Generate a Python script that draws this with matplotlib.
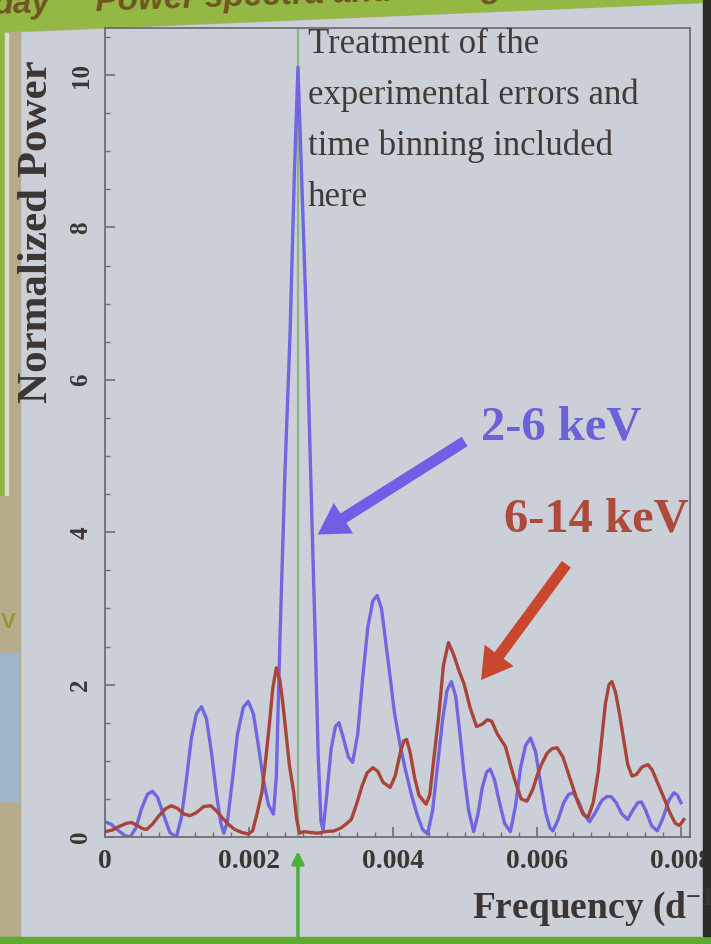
import matplotlib
matplotlib.use("Agg")
import matplotlib.pyplot as plt
from matplotlib.patches import Polygon, Rectangle
from matplotlib.ticker import MultipleLocator

plt.rcParams['font.family'] = ['Liberation Serif', 'DejaVu Serif']
plt.rcParams['mathtext.fontset'] = 'custom'
plt.rcParams['mathtext.rm'] = 'Liberation Serif:bold'
plt.rcParams['mathtext.bf'] = 'Liberation Serif:bold'
plt.rcParams['mathtext.it'] = 'Liberation Serif:bold:italic'

# 2-6 keV 功率谱
freq_soft = [0.00000, 0.00008, 0.00018, 0.00027, 0.00035, 0.00043, 0.00051, 0.00059, 0.00066, 0.00073,
             0.00081, 0.00090, 0.00099, 0.00106, 0.00113, 0.00120, 0.00127, 0.00134, 0.00141, 0.00148,
             0.00155, 0.00161, 0.00165, 0.00170, 0.00177, 0.00184, 0.00192, 0.00199, 0.00206, 0.00213,
             0.00220, 0.00227, 0.00234, 0.00238, 0.00243, 0.00250, 0.00257, 0.00263, 0.00268, 0.00274,
             0.00281, 0.00287, 0.00292, 0.00296, 0.00300, 0.00303, 0.00308, 0.00314, 0.00320, 0.00325,
             0.00331, 0.00338, 0.00344, 0.00351, 0.00358, 0.00365, 0.00372, 0.00378, 0.00384, 0.00390,
             0.00396, 0.00402, 0.00410, 0.00418, 0.00426, 0.00434, 0.00441, 0.00448, 0.00455, 0.00462,
             0.00469, 0.00475, 0.00481, 0.00487, 0.00493, 0.00499, 0.00505, 0.00512, 0.00518, 0.00524,
             0.00530, 0.00535, 0.00541, 0.00548, 0.00555, 0.00563, 0.00570, 0.00577, 0.00584, 0.00591,
             0.00598, 0.00605, 0.00612, 0.00618, 0.00622, 0.00629, 0.00637, 0.00644, 0.00650, 0.00657,
             0.00665, 0.00673, 0.00681, 0.00690, 0.00697, 0.00703, 0.00710, 0.00718, 0.00726, 0.00733,
             0.00740, 0.00745, 0.00751, 0.00759, 0.00767, 0.00775, 0.00783, 0.00790, 0.00795, 0.00800]
power_soft = [0.20, 0.17, 0.09, 0.02, 0.00, 0.12, 0.38, 0.56, 0.60, 0.52,
              0.30, 0.06, 0.00, 0.25, 0.75, 1.30, 1.62, 1.71, 1.55, 1.10,
              0.55, 0.18, 0.05, 0.20, 0.75, 1.35, 1.70, 1.78, 1.62, 1.20,
              0.75, 0.42, 0.30, 0.80, 2.60, 4.80, 6.60, 8.70, 10.10, 8.40,
              6.40, 4.30, 2.60, 1.10, 0.20, 0.10, 0.55, 1.15, 1.45, 1.50,
              1.30, 1.05, 0.98, 1.35, 2.10, 2.75, 3.10, 3.17, 3.00, 2.55,
              2.10, 1.63, 1.20, 0.85, 0.54, 0.28, 0.10, 0.04, 0.35, 0.95,
              1.55, 1.92, 2.04, 1.85, 1.35, 0.80, 0.35, 0.07, 0.30, 0.65,
              0.85, 0.89, 0.75, 0.45, 0.18, 0.07, 0.40, 0.90, 1.20, 1.30,
              1.12, 0.70, 0.32, 0.12, 0.08, 0.22, 0.45, 0.56, 0.58, 0.48,
              0.30, 0.20, 0.32, 0.48, 0.53, 0.53, 0.45, 0.30, 0.23, 0.35,
              0.45, 0.46, 0.35, 0.15, 0.08, 0.25, 0.48, 0.58, 0.55, 0.45]

# 6-14 keV 功率谱
freq_hard = [0.00000, 0.00010, 0.00020, 0.00030, 0.00037, 0.00045, 0.00052, 0.00058, 0.00066, 0.00075,
             0.00084, 0.00092, 0.00100, 0.00110, 0.00118, 0.00127, 0.00137, 0.00147, 0.00155, 0.00163,
             0.00171, 0.00180, 0.00190, 0.00199, 0.00205, 0.00211, 0.00218, 0.00223, 0.00228, 0.00233,
             0.00238, 0.00243, 0.00247, 0.00251, 0.00256, 0.00262, 0.00266, 0.00270, 0.00276, 0.00285,
             0.00295, 0.00305, 0.00318, 0.00328, 0.00336, 0.00342, 0.00349, 0.00357, 0.00364, 0.00372,
             0.00379, 0.00386, 0.00396, 0.00403, 0.00410, 0.00415, 0.00419, 0.00424, 0.00430, 0.00436,
             0.00440, 0.00446, 0.00451, 0.00457, 0.00464, 0.00470, 0.00477, 0.00484, 0.00491, 0.00499,
             0.00507, 0.00516, 0.00524, 0.00531, 0.00537, 0.00545, 0.00556, 0.00563, 0.00570, 0.00578,
             0.00586, 0.00594, 0.00600, 0.00606, 0.00614, 0.00621, 0.00628, 0.00636, 0.00643, 0.00650,
             0.00657, 0.00664, 0.00671, 0.00678, 0.00685, 0.00690, 0.00695, 0.00700, 0.00704, 0.00709,
             0.00714, 0.00720, 0.00726, 0.00732, 0.00738, 0.00746, 0.00754, 0.00760, 0.00768, 0.00776,
             0.00784, 0.00792, 0.00798, 0.00804]
power_hard = [0.07, 0.09, 0.14, 0.18, 0.19, 0.15, 0.11, 0.10, 0.17, 0.28,
              0.37, 0.41, 0.38, 0.30, 0.28, 0.32, 0.40, 0.41, 0.34, 0.25,
              0.17, 0.10, 0.06, 0.04, 0.08, 0.30, 0.59, 1.00, 1.45, 1.95,
              2.22, 2.05, 1.75, 1.40, 0.95, 0.59, 0.25, 0.05, 0.07, 0.06,
              0.05, 0.07, 0.08, 0.12, 0.18, 0.23, 0.42, 0.67, 0.84, 0.91,
              0.86, 0.72, 0.65, 0.80, 1.10, 1.26, 1.28, 1.10, 0.78, 0.55,
              0.50, 0.43, 0.55, 1.05, 1.63, 2.25, 2.55, 2.40, 2.20, 2.00,
              1.70, 1.45, 1.48, 1.54, 1.52, 1.35, 1.19, 0.95, 0.72, 0.50,
              0.47, 0.62, 0.80, 0.95, 1.10, 1.16, 1.17, 1.05, 0.85, 0.65,
              0.45, 0.30, 0.26, 0.45, 0.85, 1.30, 1.75, 2.00, 2.04, 1.90,
              1.65, 1.30, 0.95, 0.80, 0.82, 0.92, 0.95, 0.88, 0.70, 0.52,
              0.33, 0.18, 0.15, 0.23]

marker_freq = 0.00268
x_ticks = [0, 0.002, 0.004, 0.006, 0.008]
x_ticklabels = ['0', '0.002', '0.004', '0.006', '0.008']
y_ticks = [0, 2, 4, 6, 8, 10]
y_ticklabels = ['0', '2', '4', '6', '8', '10']
note_lines = ['Treatment of the', 'experimental errors and',
              'time binning included', 'here']

W, H = 711, 944
fig = plt.figure(figsize=(W / 100, H / 100), dpi=100)
fig.patch.set_facecolor('#93b944')

# 背景: 幻灯片照片的各个色块 (像素坐标)
bg = fig.add_axes([0, 0, 1, 1], zorder=0)
bg.set_xlim(0, W)
bg.set_ylim(H, 0)
bg.axis('off')
bg.add_patch(Rectangle((0, 928), W, 20, color='#5daa32'))
bg.add_patch(Polygon([(0, 33), (703, 4), (703, 936), (0, 936)], color='#b6ab8b'))
bg.add_patch(Rectangle((0, 33), 5, 462, color='#8db640'))
bg.add_patch(Rectangle((5, 33), 3, 462, color='#d9dcd8'))
bg.add_patch(Rectangle((0, 653), 18, 148, color='#9db6cb'))
bg.text(1, 622, 'V', color='#8c9a34', fontsize=16, fontweight='bold', ha='left', va='center',
        family='Liberation Sans')
bg.add_patch(Polygon([(22, 33), (703, 4), (703, 936), (22, 936)], color='#cbd0d8'))
bg.text(-8, 14, 'day', color='#6e5522', fontsize=24, fontweight='bold', style='italic',
        family='Liberation Sans', rotation=2, va='baseline')
bg.text(95, 11, 'Power spectra and timing', color='#6e5522', fontsize=24, fontweight='bold',
        style='italic', family='Liberation Sans', rotation=2, va='baseline')

ov = fig.add_axes([0, 0, 1, 1], zorder=3)
ov.set_xlim(0, W)
ov.set_ylim(H, 0)
ov.axis('off')
ov.patch.set_alpha(0)

# 主图
ax = fig.add_axes([105 / W, 1 - 837 / H, (690 - 105) / W, (837 - 28) / H], zorder=2)
ax.patch.set_alpha(0)
ax.set_xlim(0, (690 - 105) / 72000)
ax.set_ylim(0, 809 / 76.2)

ax.axvline(marker_freq, color='#86b986', lw=1.6, zorder=1)
ax.plot(freq_soft, power_soft, color='#7166e0', lw=2.4, zorder=2)
ax.plot(freq_hard, power_hard, color='#a9443a', lw=2.4, zorder=3)

ax.set_xticks(x_ticks)
ax.set_xticklabels(x_ticklabels)
ax.set_yticks(y_ticks)
ax.set_yticklabels(y_ticklabels, rotation=90, va='center')
ax.xaxis.set_minor_locator(MultipleLocator(0.00025))
ax.yaxis.set_minor_locator(MultipleLocator(0.5))
ax.tick_params(which='both', direction='in', colors='#6e6e74', labelcolor='#3b3735')
ax.tick_params(which='major', length=7, width=1.2)
ax.tick_params(which='minor', length=3.5, width=1.0)
ax.tick_params(axis='x', labelsize=20, pad=9)
ax.tick_params(axis='y', labelsize=18, pad=9)
for lab in ax.get_xticklabels() + ax.get_yticklabels():
    lab.set_fontweight('bold')
for sp in ax.spines.values():
    sp.set_color('#6e6e74')
    sp.set_linewidth(1.3)

# 箭头
ax.annotate('', xy=(0.00292, 3.95), xytext=(467, 440), textcoords=ov.transData,
            arrowprops=dict(arrowstyle='simple,head_length=1.1,head_width=1.3,tail_width=0.4',
                            mutation_scale=20, color='#6f5fe6', lw=0),
            annotation_clip=False, zorder=5)
ax.annotate('', xy=(0.00520, 2.03), xytext=(568, 562), textcoords=ov.transData,
            arrowprops=dict(arrowstyle='simple,head_length=1.1,head_width=1.3,tail_width=0.4',
                            mutation_scale=20, color='#c9472c', lw=0),
            annotation_clip=False, zorder=5)
ax.annotate('', xy=(marker_freq, -0.014), xycoords=('data', 'axes fraction'),
            xytext=(marker_freq, -0.13), textcoords=('data', 'axes fraction'),
            arrowprops=dict(arrowstyle='-|>', color='#4fae3a', lw=2.5, mutation_scale=18),
            annotation_clip=False)

# 文字
ov.text(561, 428, '2-6 keV', color='#6c62d8', fontsize=35, fontweight='bold', ha='center', va='center')
ov.text(596, 520, '6-14 keV', color='#ad4a3a', fontsize=35, fontweight='bold', ha='center', va='center')
for i, line in enumerate(note_lines):
    ov.text(308, 53 + i * 51, line, color='#403b38', fontsize=25, ha='left', va='baseline')
ov.text(37, 232, 'Normalized Power', color='#3b3633', fontsize=31, fontweight='bold', rotation=90,
        ha='center', va='center')
ov.text(472, 918, r'Frequency (d$^{-1}$)', color='#3b3633', fontsize=27, fontweight='bold',
        ha='left', va='baseline')
ov.add_patch(Rectangle((703, 0), 10, 936, color='#2c2c27'))

fig.savefig('out.png', dpi=100)
